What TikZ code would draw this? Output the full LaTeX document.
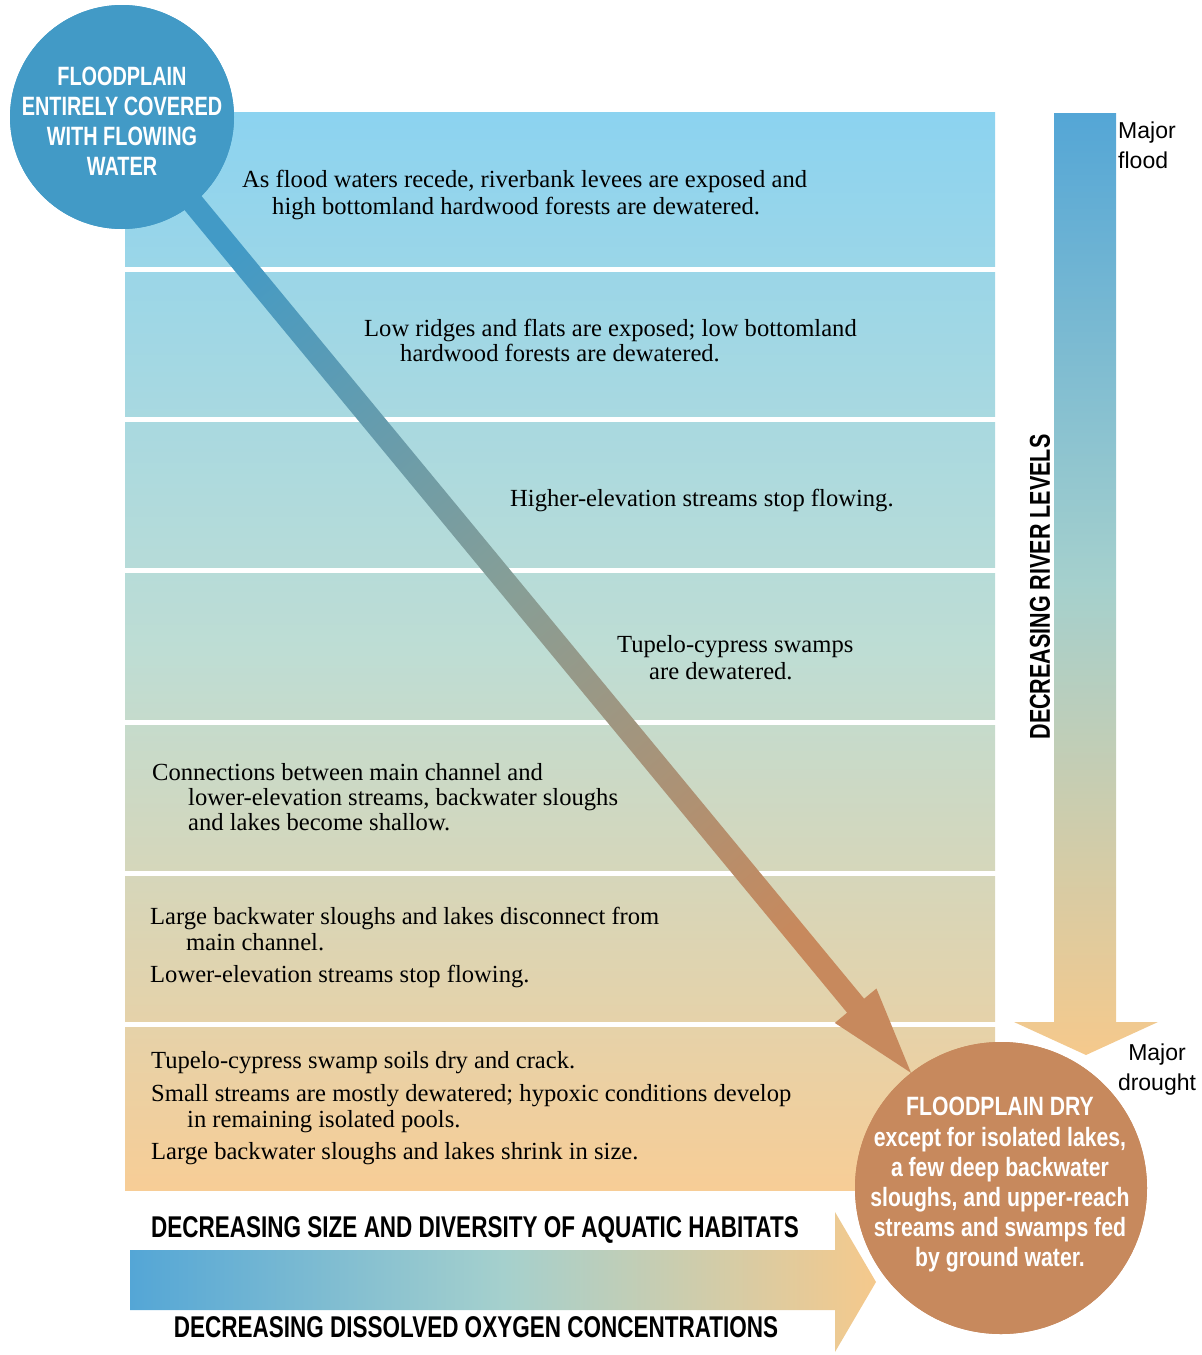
\documentclass[tikz,border=0pt]{standalone}
\usepackage{fontspec}
\setmainfont{Liberation Serif}
\newfontfamily\condf[FakeStretch=0.75]{Liberation Sans}
\newfontfamily\condw[FakeStretch=0.8]{Liberation Sans}
\newfontfamily\labf{Liberation Sans}
\usetikzlibrary{calc}
\definecolor{bandtop}{RGB}{140,211,240}
\definecolor{bandmid}{RGB}{190,221,212}
\definecolor{bandbot}{RGB}{247,205,150}
\definecolor{flood}{RGB}{66,154,198}
\definecolor{dry}{RGB}{199,137,93}
\definecolor{arrtop}{RGB}{84,166,214}
\definecolor{arrmid}{RGB}{165,208,205}
\definecolor{arrbot}{RGB}{245,201,140}
\definecolor{diagmid}{RGB}{135,158,150}
\tikzset{
  body/.style={anchor=base west, inner sep=0pt, font=\fontsize{24.6}{27}\selectfont},
  sep/.style={white, line width=5pt},
  caplab/.style={inner sep=0pt, font=\condf\bfseries\fontsize{30}{34}\selectfont},
  circtext/.style={align=center, text=white, inner sep=0pt},
  sidelab/.style={inner sep=0pt, font=\labf\fontsize{23}{30}\selectfont},
}
\begin{document}
\begin{tikzpicture}[x=1pt,y=1pt]
\useasboundingbox (0,0) rectangle (1202,-1355);
% bands
\shade[top color=bandtop, bottom color=bandbot, middle color=bandmid] (125,-112) rectangle (995,-1190);
\foreach \yy in {269.5,419,570.5,722,873,1024}
  \draw[sep] (120,-\yy) -- (1000,-\yy);
% right arrow
\shade[top color=arrtop, bottom color=arrbot, middle color=arrmid]
  (1054,-113) -- (1116,-113) -- (1116,-1022) -- (1158,-1022) -- (1086,-1055)
  -- (1014,-1022) -- (1054,-1022) -- cycle;
% bottom arrow
\shade[left color=arrtop, right color=arrbot, middle color=arrmid]
  (130,-1250) -- (835,-1250) -- (835,-1212) -- (876,-1282) -- (835,-1352)
  -- (835,-1310) -- (130,-1310) -- cycle;
% circles (nodes)
\node[circle, fill=flood, minimum size=224pt, inner sep=0pt] (c1) at (122,-117) {};
\node[circle, fill=dry, minimum size=292pt, inner sep=0pt] (c2) at (1001,-1188) {};
% diagonal arrow from c1 to c2
\coordinate (ds) at (c1.center);
\coordinate (dt) at (c2.128);
\coordinate (dh) at ($(dt)!87pt!(ds)$);
\shade[top color=flood, bottom color=dry, middle color=diagmid, shading angle=40]
  ($(ds)!11pt!90:(dt)$) -- ($(dh)!11pt!-90:(ds)$) -- ($(dh)!27pt!-90:(ds)$) -- (dt)
  -- ($(dh)!27pt!90:(ds)$) -- ($(dh)!11pt!90:(ds)$) -- ($(ds)!11pt!-90:(dt)$) -- cycle;
% redraw circles on top of the arrow
\fill[flood] (c1.center) circle (112pt);
\fill[dry] (c2.center) circle (146pt);
\node[circtext, font=\condf\bfseries\fontsize{26.5}{30}\selectfont] (c1t) at (122,-121)
  {FLOODPLAIN\\ENTIRELY COVERED\\WITH FLOWING\\WATER};
\node[circtext, font=\condw\bfseries\fontsize{26.5}{30.2}\selectfont] (c2t) at (1000,-1185)
  {FLOODPLAIN DRY\\except for isolated lakes,\\a few deep backwater\\sloughs, and upper-reach\\streams and swamps fed\\by ground water.};
% side labels
\node[sidelab, anchor=west, align=left] (mf) at (1118,-145) {Major\\flood};
\node[sidelab, align=center] (md) at (1157,-1070) {Major\\drought};
\node[caplab, font=\condf\bfseries\fontsize{28.7}{32}\selectfont, rotate=90] (drl) at (1040,-587) {DECREASING RIVER LEVELS};
\node[caplab] (dsz) at (475,-1230) {DECREASING SIZE AND DIVERSITY OF AQUATIC HABITATS};
\node[caplab] (ddo) at (476,-1327) {DECREASING DISSOLVED OXYGEN CONCENTRATIONS};
% band texts
\node[body] (t1a) at (242,-187) {As flood waters recede, riverbank levees are exposed and};
\node[body] (t1b) at (272,-214) {high bottomland hardwood forests are dewatered.};
\node[body] (t2a) at (364,-336) {Low ridges and flats are exposed; low bottomland};
\node[body] (t2b) at (400,-361) {hardwood forests are dewatered.};
\node[body] (t3a) at (510,-506) {Higher-elevation streams stop flowing.};
\node[body] (t4a) at (617,-652) {Tupelo-cypress swamps};
\node[body] (t4b) at (649,-679) {are dewatered.};
\node[body] (t5a) at (152,-780) {Connections between main channel and};
\node[body] (t5b) at (188,-805) {lower-elevation streams, backwater sloughs};
\node[body] (t5c) at (188,-830) {and lakes become shallow.};
\node[body] (t6a) at (150,-924) {Large backwater sloughs and lakes disconnect from};
\node[body] (t6b) at (186,-950) {main channel.};
\node[body] (t6c) at (150,-982) {Lower-elevation streams stop flowing.};
\node[body] (t7a) at (151,-1068) {Tupelo-cypress swamp soils dry and crack.};
\node[body] (t7b) at (151,-1101) {Small streams are mostly dewatered; hypoxic conditions develop};
\node[body] (t7c) at (187,-1127) {in remaining isolated pools.};
\node[body] (t7d) at (151,-1159) {Large backwater sloughs and lakes shrink in size.};
\end{tikzpicture}
\end{document}
